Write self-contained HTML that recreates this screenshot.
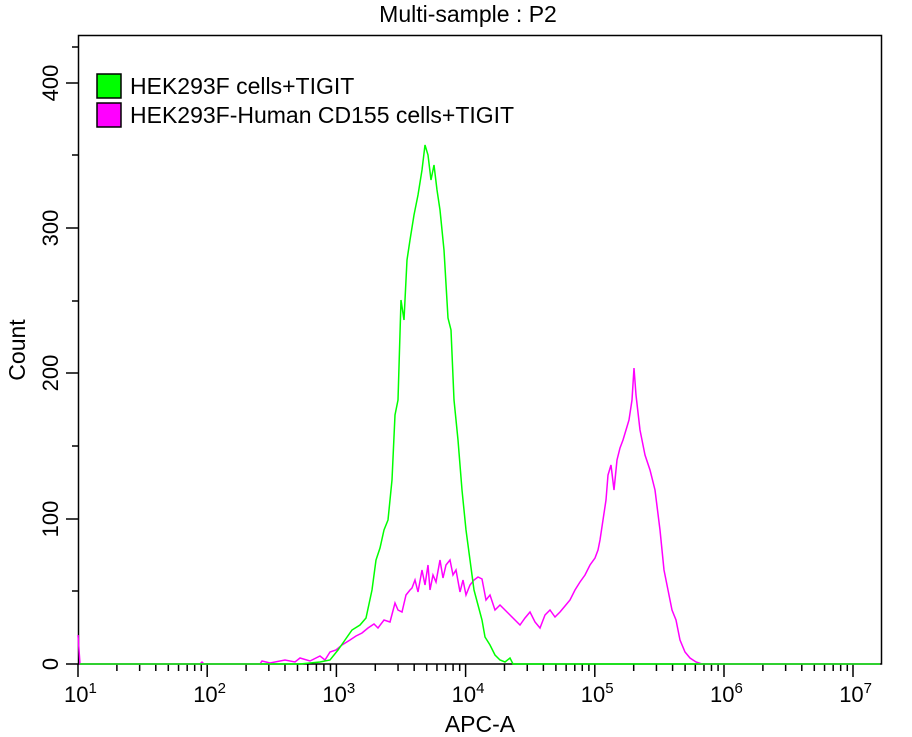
<!DOCTYPE html>
<html><head><meta charset="utf-8"><style>body{margin:0;background:#fff}svg{display:block;font-family:"Liberation Sans",Arial,sans-serif}</style></head><body>
<svg width="912" height="737" viewBox="0 0 912 737">
<rect x="0" y="0" width="912" height="737" fill="#fff"/>
<text x="468" y="22" font-size="23" text-anchor="middle">Multi-sample : P2</text>
<rect x="78.5" y="35.5" width="803" height="628.5" fill="none" stroke="#000" stroke-width="1.5"/>
<g stroke="#000" stroke-width="1.5">
<line x1="66" y1="664" x2="78" y2="664"/><line x1="72" y1="591" x2="78" y2="591"/>
<line x1="66" y1="519" x2="78" y2="519"/><line x1="72" y1="446" x2="78" y2="446"/>
<line x1="66" y1="373" x2="78" y2="373"/><line x1="72" y1="301" x2="78" y2="301"/>
<line x1="66" y1="228" x2="78" y2="228"/><line x1="72" y1="155" x2="78" y2="155"/>
<line x1="66" y1="83" x2="78" y2="83"/><line x1="72" y1="47" x2="78" y2="47"/>
</g>
<g font-size="22" text-anchor="middle">
<text transform="translate(51,664) rotate(-90)" y="7">0</text>
<text transform="translate(51,519) rotate(-90)" y="7">100</text>
<text transform="translate(51,373) rotate(-90)" y="7">200</text>
<text transform="translate(51,228) rotate(-90)" y="7">300</text>
<text transform="translate(51,83) rotate(-90)" y="7">400</text>
<text transform="translate(25,350) rotate(-90)" font-size="23">Count</text>
<text x="480" y="732" font-size="23">APC-A</text>
</g>
<g id="xt" stroke="#000" stroke-width="1.5"></g>
<g id="xl" font-size="22"></g>
<polyline fill="none" stroke="#ff00ff" stroke-width="1.5" points="78,635 80,664 200,664 202,662 204,664 260,664 262,661 270,663 285,660 295,662 300,658 310,661 320,656 325,660 330,652 336,650 342,645 350,640 356,636 362,633 368,628 374,624 378,628 384,620 390,622 395,603 398,610 402,612 406,595 410,590 412,588 415,580 418,592 422,570 425,585 428,565 430,590 433,575 436,582 440,560 443,578 446,565 450,560 453,575 456,570 460,592 463,580 466,595 470,585 474,580 478,577 482,579 486,600 490,595 495,610 500,605 505,610 510,615 515,620 520,625 525,618 530,612 535,622 540,628 545,615 550,610 555,617 560,612 565,606 570,600 575,590 580,582 585,575 590,565 595,558 598,550 600,540 603,520 606,500 608,475 611,465 614,490 617,460 620,448 623,440 626,430 629,420 632,400 634,368 636,395 640,430 645,455 650,470 655,490 660,530 664,570 668,590 672,610 676,620 680,640 685,652 690,658 696,662 702,664 880,664"/>
<polyline fill="none" stroke="#00ff00" stroke-width="1.5" points="80,664 300,664 320,662 330,660 338,650 345,640 352,630 360,625 366,618 372,590 376,560 380,548 384,530 388,520 392,480 395,415 398,400 401,300 404,320 407,260 410,240 414,215 418,195 422,170 425,145 428,155 431,180 434,165 437,190 440,210 444,250 448,318 451,330 454,400 458,440 462,490 466,530 470,560 474,590 478,605 482,620 485,637 490,645 495,655 500,660 505,662 510,658 513,664 880,664"/>
<rect x="97" y="74" width="24" height="24" fill="#00ff00" stroke="#000" stroke-width="1.5"/>
<rect x="97" y="103" width="24" height="24" fill="#ff00ff" stroke="#000" stroke-width="1.5"/>
<g font-size="23"><text x="130" y="94">HEK293F cells+TIGIT</text><text x="130" y="123">HEK293F-Human CD155 cells+TIGIT</text></g>
<script>
var t=document.getElementById('xt'),l=document.getElementById('xl'),ns='http://www.w3.org/2000/svg';
for(var d=0;d<6;d++){for(var k=1;k<10;k++){var x=78+129.2*(d+Math.log10(k));var e=document.createElementNS(ns,'line');e.setAttribute('x1',x);e.setAttribute('x2',x);e.setAttribute('y1',664);e.setAttribute('y2',k==1?677:671);t.appendChild(e);}}
var e=document.createElementNS(ns,'line');e.setAttribute('x1',853);e.setAttribute('x2',853);e.setAttribute('y1',664);e.setAttribute('y2',677);t.appendChild(e);
for(var d=0;d<7;d++){var x=78+129.2*d;var tx=document.createElementNS(ns,'text');tx.setAttribute('x',x-14);tx.setAttribute('y',702);tx.textContent='10';var s=document.createElementNS(ns,'tspan');s.setAttribute('font-size','15');s.setAttribute('dy','-9');s.textContent=(d+1);tx.appendChild(s);l.appendChild(tx);}
</script>
</svg>
</body></html>
